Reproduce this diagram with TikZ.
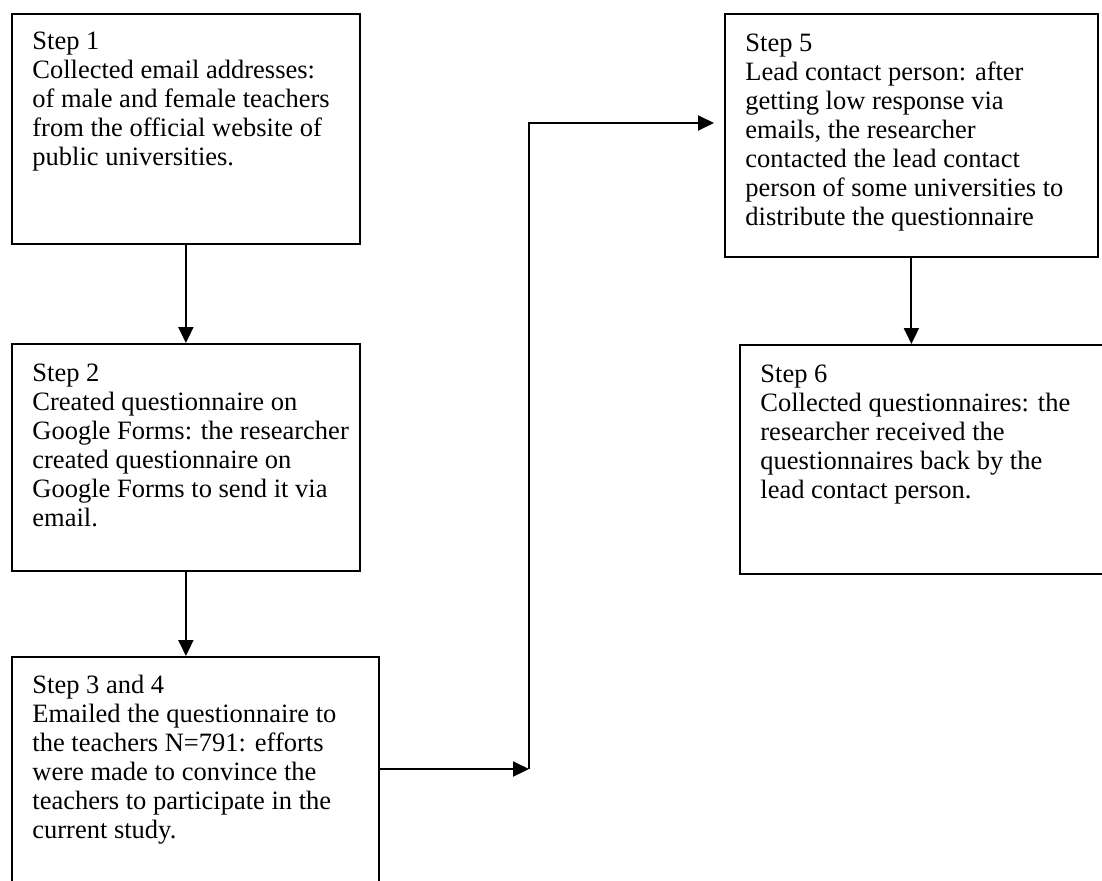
\documentclass[tikz,border=0pt]{standalone}
\usepackage{fontspec}
\setmainfont{Liberation Serif}
\usetikzlibrary{calc,arrows.meta}

\tikzset{
  stepbox/.style={draw, line width=0.9pt, anchor=north west, inner sep=0pt},
  steptext/.style={anchor=north west, align=left, inner sep=0pt, font=\fontsize{13.25}{14.5}\selectfont},
  flow/.style={line width=1pt, -{Triangle[length=8pt,width=7.5pt]}}
}

\begin{document}
\begin{tikzpicture}[x=0.5pt,y=-0.5pt]
\useasboundingbox (0,0) rectangle (1102,880);
\clip (0,0) rectangle (1102,880);
% boxes
\node[stepbox, minimum width=174pt, minimum height=115pt] (s1) at (11,13) {};
\node[stepbox, minimum width=174pt, minimum height=113.5pt] (s2) at (11,343) {};
\node[stepbox, minimum width=183.5pt, minimum height=125pt] (s3) at (11,656) {};
\node[stepbox, minimum width=186.5pt, minimum height=121.5pt] (s5) at (724,13) {};
\node[stepbox, minimum width=190pt, minimum height=114.5pt] (s6) at (739,344) {};
% texts
\node[steptext] (t1) at ($(s1.north west)+(21,19)$) {Step 1\\Collected email addresses:\\of male and female teachers\\from the official website of\\public universities.};
\node[steptext] (t2) at ($(s2.north west)+(21,21)$) {Step 2\\Created questionnaire on\\Google Forms: the researcher\\created questionnaire on\\Google Forms to send it via\\email.};
\node[steptext] (t3) at ($(s3.north west)+(21,19)$) {Step 3 and 4\\Emailed the questionnaire to\\the teachers N=791: efforts\\were made to convince the\\teachers to participate in the\\current study.};
\node[steptext] (t5) at ($(s5.north west)+(21,21)$) {Step 5\\Lead contact person: after\\getting low response via\\emails, the researcher\\contacted the lead contact\\person of some universities to\\distribute the questionnaire};
\node[steptext] (t6) at ($(s6.north west)+(21,21)$) {Step 6\\Collected questionnaires: the\\researcher received the\\questionnaires back by the\\lead contact person.};
% arrows
\coordinate (turn) at (529,769);
\coordinate (top) at (529,123);
\draw[flow] (s1.south) -- (s1.south |- s2.north);
\draw[flow] (s2.south) -- (s2.south |- s3.north);
\draw[flow] (s3.east |- turn) -- (turn);
\draw[flow, shorten >=5pt] (turn) -- (top) -- (s5.west |- top);
\draw[flow] (s5.south) -- (s5.south |- s6.north);
\end{tikzpicture}
\end{document}
